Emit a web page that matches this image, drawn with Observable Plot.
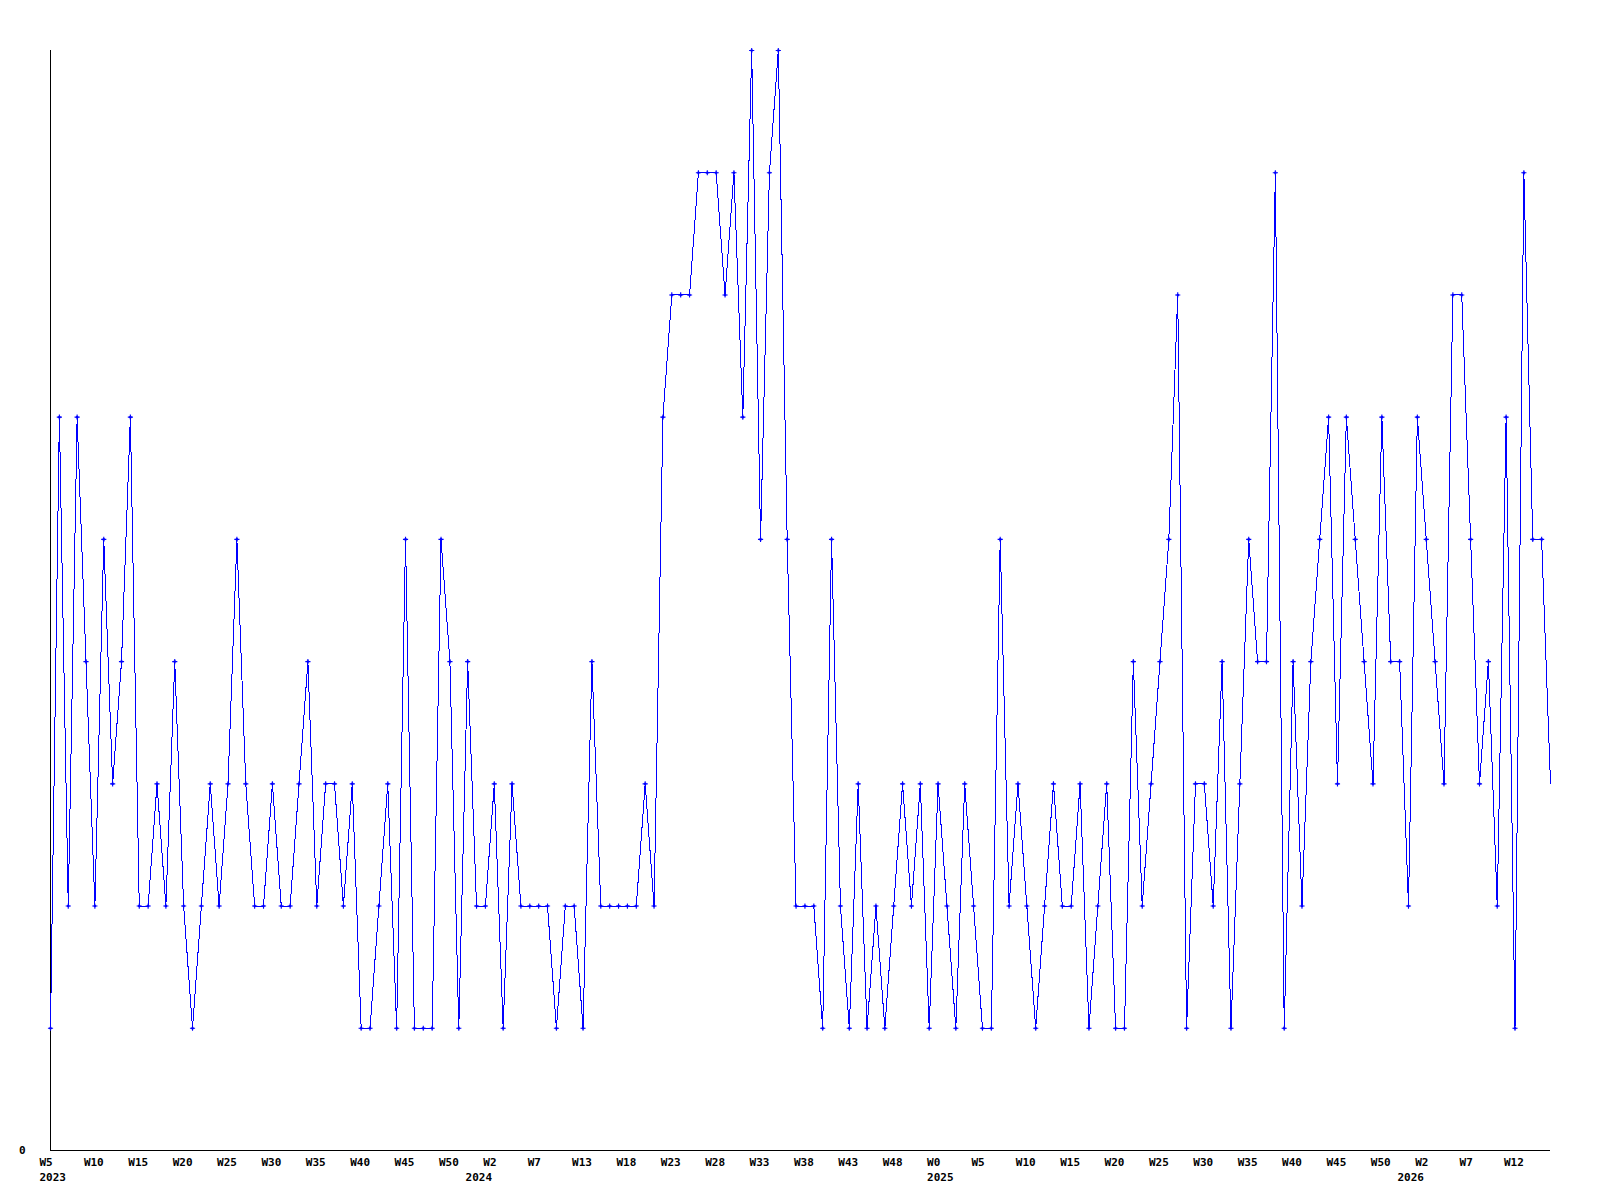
<!DOCTYPE html>
<html>
<head>
<meta charset="utf-8">
<script src="https://cdn.jsdelivr.net/npm/d3@7"></script>
<script src="https://cdn.jsdelivr.net/npm/@observablehq/plot@0.6"></script>
<style>
  html, body { margin: 0; padding: 0; background: #ffffff; }
  #chart svg { display: block; }
</style>
</head>
<body>
<div id="chart"></div>
<script>
// Weekly counts, 2023 W5 onwards (one value per week)
const values = [
  1,6,2,6,4,2,5,3,4,6,
  2,2,3,2,4,2,1,2,3,2,
  3,5,3,2,2,3,2,2,3,4,
  2,3,3,2,3,1,1,2,3,1,
  5,1,1,1,5,4,1,4,2,2,
  3,1,3,2,2,2,2,1,2,2,
  1,4,2,2,2,2,2,3,2,6,
  7,7,7,8,8,8,7,8,6,9,
  5,8,9,5,2,2,2,1,5,2,
  1,3,1,2,1,2,3,2,3,1,
  3,2,1,3,2,1,1,5,2,3,
  2,1,2,3,2,2,3,1,2,3,
  1,1,4,2,3,4,5,7,1,3,
  3,2,4,1,3,5,4,4,8,1,
  4,2,4,5,6,3,6,5,4,3,
  6,4,4,2,6,5,4,3,7,7,
  5,3,4,2,6,1,8,5,5,3
];

// Week tick labels, one every 5 weeks starting at the first week
const weekLabels = [
  "W5","W10","W15","W20","W25","W30","W35","W40","W45","W50",
  "W2","W7","W13","W18","W23","W28","W33","W38","W43","W48",
  "W0","W5","W10","W15","W20","W25","W30","W35","W40","W45",
  "W50","W2","W7","W12"
];
const weekStep = 5;

// Year labels and the week index at which each year starts
const yearLabels = ["2023", "2024", "2025", "2026"];
const yearWeekIndex = [0, 48, 100, 153];

const yTickLabels = ["0"];

const data = values.map((v, i) => ({ i, v }));
const weekTicks = weekLabels.map((t, k) => ({ i: k * weekStep, t }));
const yearTicks = yearLabels.map((t, k) => ({ i: yearWeekIndex[k], t }));
const yTicks = yTickLabels.map(t => ({ v: +t, t }));

const blue = "#0000ff";
const marked = data.slice(0, -1);

const chart = Plot.plot({
  width: 1600,
  height: 1200,
  marginLeft: 50,
  marginRight: 50,
  marginTop: 50,
  marginBottom: 50,
  x: { domain: [0, values.length - 1], axis: null },
  y: { domain: [0, 9], axis: null },
  style: {
    fontFamily: "'DejaVu Sans Mono', monospace",
    fontSize: "11px",
    fontWeight: "bold",
    background: "#ffffff",
    color: "#000000"
  },
  marks: [
    Plot.ruleX([0], { stroke: "#000000", strokeWidth: 1, shapeRendering: "crispEdges" }),
    Plot.ruleY([0], { stroke: "#000000", strokeWidth: 1, shapeRendering: "crispEdges" }),
    Plot.line(data, { x: "i", y: "v", stroke: blue, strokeWidth: 1, shapeRendering: "crispEdges" }),
    Plot.dot(marked, { x: "i", y: "v", symbol: "plus", r: 1.8, stroke: blue, strokeWidth: 1.1 }),
    Plot.dot(marked, { x: "i", y: "v", r: 1.3, fill: blue, stroke: "none" }),
    Plot.text(weekTicks, { x: "i", y: () => 0, text: "t", textAnchor: "start", dx: -11, dy: 12, fill: "#000000" }),
    Plot.text(yearTicks, { x: "i", y: () => 0, text: "t", textAnchor: "start", dx: -11, dy: 27, fill: "#000000" }),
    Plot.text(yTicks, { x: () => 0, y: "v", text: "t", textAnchor: "end", dx: -25, fill: "#000000" })
  ]
});

document.getElementById("chart").appendChild(chart);
</script>
</body>
</html>
